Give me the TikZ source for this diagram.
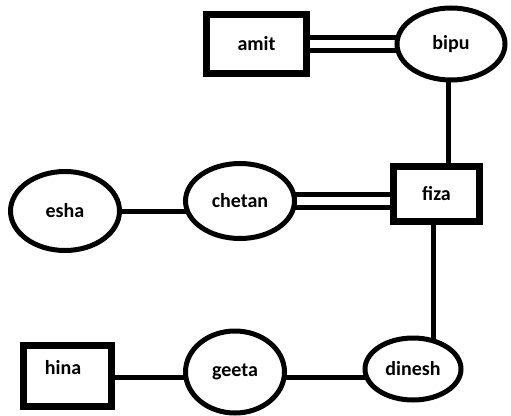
\documentclass[tikz,border=0pt]{standalone}
\usepackage{fontspec}
\setmainfont{Carlito}
\usetikzlibrary{shapes.geometric,backgrounds}
\tikzset{
  ent/.style={draw, fill=white, line width=7pt, rectangle, inner sep=0pt, font=\bfseries\fontsize{20}{24}\selectfont},
  att/.style={draw, fill=white, line width=5pt, ellipse, inner sep=0pt, font=\bfseries\fontsize{20}{24}\selectfont},
  link/.style={line width=5pt},
  dlink/.style={line width=5pt, double=white, double distance=8pt}
}
\begin{document}
\begin{tikzpicture}[x=1pt,y=-1pt]
\useasboundingbox (0,0) rectangle (511,415);
\node[ent, minimum width=100pt, minimum height=59pt] (amit) at (256.5,44) {amit};
\node[att, minimum width=108pt, minimum height=72pt] (bipu) at (451,44) {bipu};
\node[ent, minimum width=86pt, minimum height=55pt] (fiza) at (436.5,194) {fiza};
\node[att, minimum width=109pt, minimum height=79pt] (esha) at (65,211) {esha};
\node[att, minimum width=109pt, minimum height=75pt] (chetan) at (240,201) {chetan};
\node[ent, minimum width=88pt, minimum height=61pt] (hina) at (67.5,376) {};
\node[font=\bfseries\fontsize{20}{24}\selectfont] (hinat) at (63,368) {hina};
\node[att, minimum width=99pt, minimum height=82pt] (geeta) at (235,372) {geeta};
\node[att, minimum width=96pt, minimum height=62pt] (dinesh) at (413,369) {dinesh};
\begin{scope}[on background layer]
\fill[white] (0,0) rectangle (511,415);
\draw[dlink] (amit.center) -- (bipu.center);
\draw[link] ([xshift=-3pt]bipu.center) -- ([xshift=-3pt]bipu.center |- fiza.center);
\draw[dlink] (chetan.center) -- (chetan.center -| fiza.center);
\draw[link] (esha.center) -- (esha.center -| chetan.center);
\draw[link] ([xshift=-3.5pt]fiza.center) -- ([xshift=-3.5pt]fiza.center |- dinesh.center);
\draw[link] ([yshift=-1pt]hina.center) -- ([yshift=-1pt]hina.center -| dinesh.center);
\end{scope}
\end{tikzpicture}
\end{document}
